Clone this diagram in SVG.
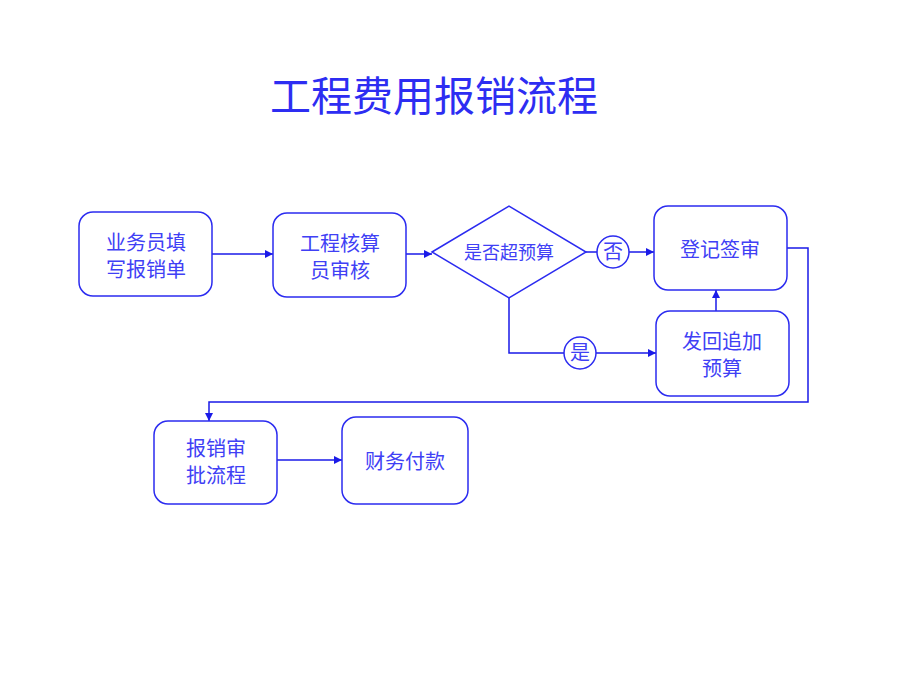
<svg xmlns="http://www.w3.org/2000/svg" width="920" height="690" viewBox="0 0 920 690">
<style>
.box{fill:#fff;stroke:#2b2bf0;stroke-width:1.5}
.t{font-family:"Noto Sans CJK SC","Liberation Sans",sans-serif;font-size:20px;fill:#4040f5;text-anchor:middle}
.c{fill:none;stroke:#1a1ae8;stroke-width:1.5}
</style>
<defs>
<marker id="ah" viewBox="0 0 10 10" refX="10" refY="5" markerWidth="9" markerHeight="8" orient="auto" markerUnits="userSpaceOnUse">
<path d="M0,0 L10,5 L0,10 z" fill="#1a1ae8"/>
</marker>
</defs>
<rect width="920" height="690" fill="#fff"/>
<text x="434" y="111" font-family="Noto Sans CJK SC,Liberation Sans,sans-serif" font-size="41" fill="#2d2df2" text-anchor="middle">工程费用报销流程</text>
<g id="connectors">
<path class="c" d="M212,254 H273" marker-end="url(#ah)"/>
<path class="c" d="M406,254 H432" marker-end="url(#ah)"/>
<path class="c" d="M586,252 H654" marker-end="url(#ah)"/>
<path class="c" d="M509,298 V353 H656" marker-end="url(#ah)"/>
<path class="c" d="M716,311 V290" marker-end="url(#ah)"/>
<path class="c" d="M787,248 H808 V402 H209 V421" marker-end="url(#ah)"/>
<path class="c" d="M277,460 H342" marker-end="url(#ah)"/>
</g>
<g id="n1"><rect class="box" x="79" y="212" width="133" height="84" rx="14"/><text class="t" x="146" y="250">业务员填</text><text class="t" x="146" y="277">写报销单</text></g>
<g id="n2"><rect class="box" x="273" y="213" width="133" height="84" rx="14"/><text class="t" x="340" y="251">工程核算</text><text class="t" x="340" y="278">员审核</text></g>
<g id="n3"><polygon class="box" points="432,252 509,206 586,252 509,298"/><text class="t" x="509" y="259" style="font-size:18px">是否超预算</text></g>
<g id="lno"><circle class="box" cx="613" cy="252" r="16"/><text class="t" x="613" y="259">否</text></g>
<g id="lyes"><circle class="box" cx="580" cy="353" r="16"/><text class="t" x="580" y="360">是</text></g>
<g id="n4"><rect class="box" x="654" y="206" width="133" height="84" rx="14"/><text class="t" x="720" y="257">登记签审</text></g>
<g id="n5"><rect class="box" x="656" y="311" width="133" height="85" rx="14"/><text class="t" x="722" y="349">发回追加</text><text class="t" x="722" y="376">预算</text></g>
<g id="n6"><rect class="box" x="154" y="421" width="123" height="83" rx="14"/><text class="t" x="216" y="456">报销审</text><text class="t" x="216" y="483">批流程</text></g>
<g id="n7"><rect class="box" x="342" y="417" width="126" height="87" rx="14"/><text class="t" x="405" y="469">财务付款</text></g>
</svg>
